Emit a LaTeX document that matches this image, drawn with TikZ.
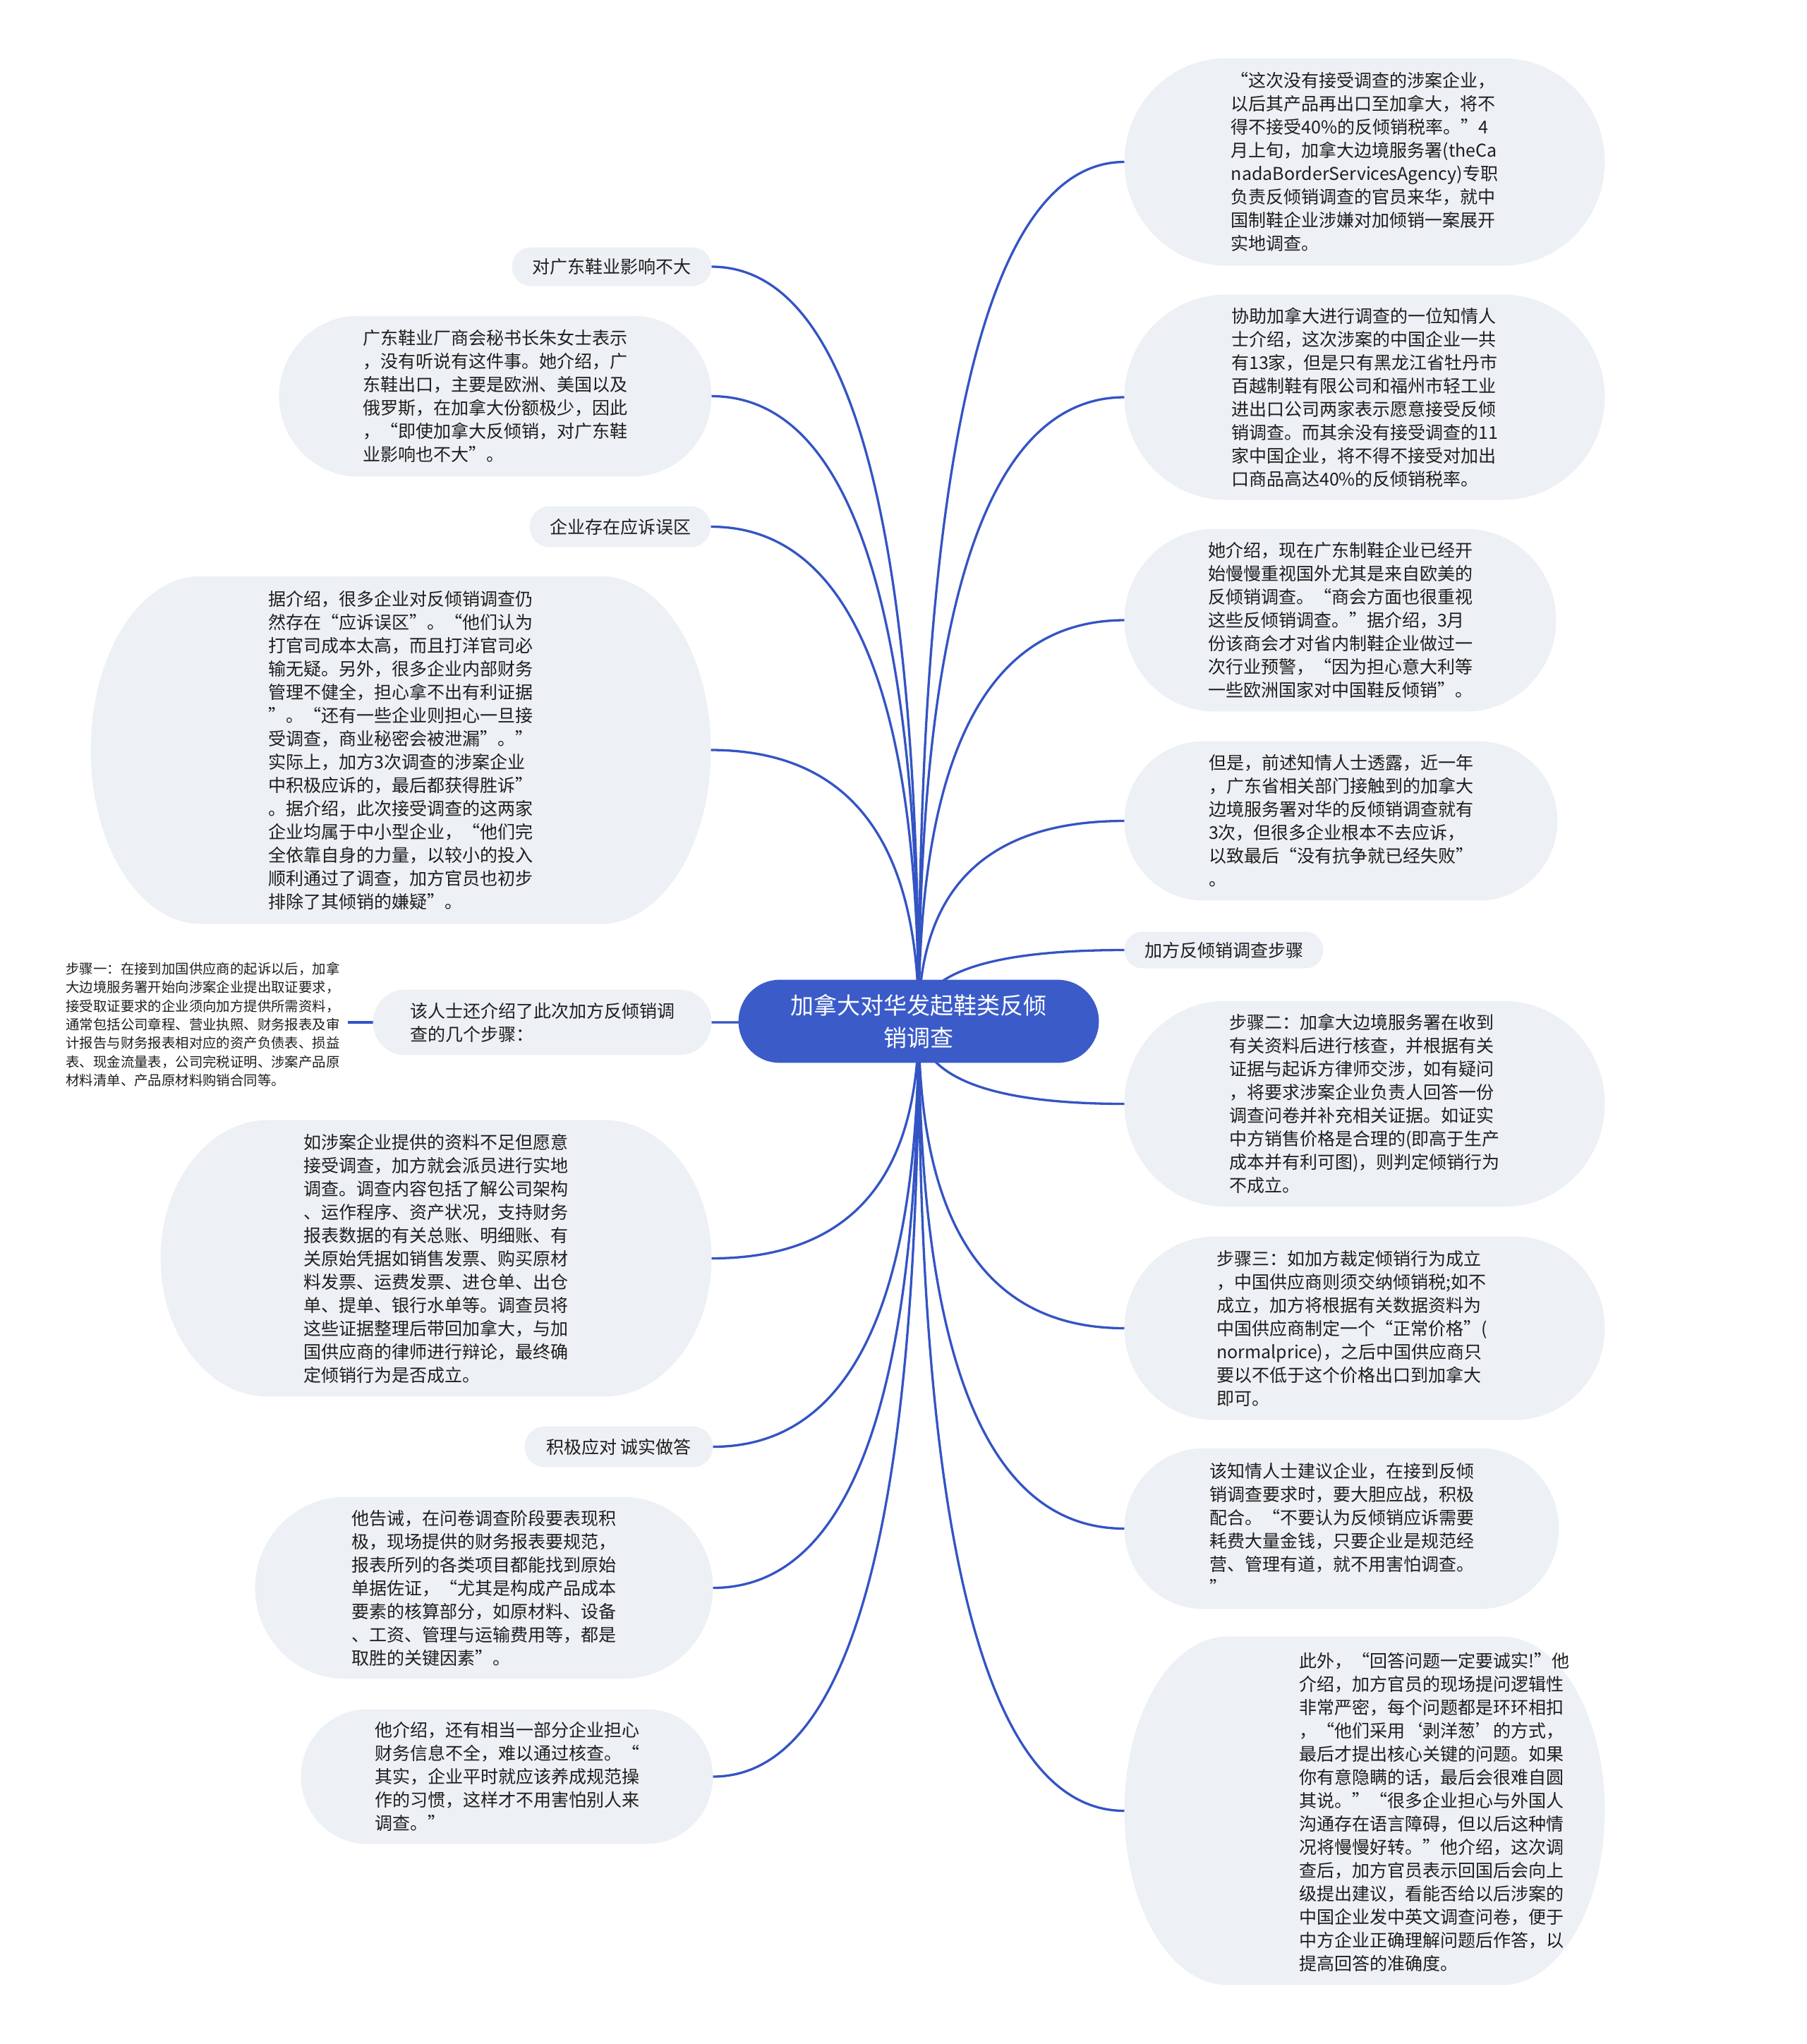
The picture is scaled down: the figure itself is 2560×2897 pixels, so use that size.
\documentclass[tikz,border=0pt]{standalone}
\usepackage{fontspec}
\setmainfont{Noto Sans CJK SC}
\usetikzlibrary{calc}
\definecolor{linkblue}{RGB}{52,84,196}
\definecolor{bubblefill}{RGB}{237,240,244}
\definecolor{rootfill}{RGB}{59,91,200}
\definecolor{txtcol}{RGB}{30,30,30}
\pgfdeclarelayer{bg}
\pgfdeclarelayer{bub}
\pgfsetlayers{bg,bub,main}
\newcommand\pillfill[3]{%
  \begin{pgfonlayer}{bub}
    \path[fill=#1] let \p1=(#2.north west), \p2=(#2.south east), \n1={0.5*(\y1-\y2)} in
      (\x1+#3,\y1) -- (\x2-#3,\y1)
      arc[start angle=90,end angle=-90,x radius=#3,y radius=\n1]
      -- (\x1+#3,\y2)
      arc[start angle=270,end angle=90,x radius=#3,y radius=\n1] -- cycle;
  \end{pgfonlayer}}
\newcommand\rootlink[1]{%
  \coordinate (q) at (root.center |- #1);
  \draw[conn] (root.center) .. controls ($(root.center)!0.6667!(q)$) and ($(#1)!0.6667!(q)$) .. (#1);}
\tikzset{
  box/.style={inner sep=0pt, align=left, text=txtcol, font=\fontsize{12.5}{16.5}\selectfont},
  conn/.style={draw=linkblue, line width=1.65pt},
}
\begin{document}
\begin{tikzpicture}[x=0.5pt,y=-0.5pt]
\useasboundingbox (0,0) rectangle (2560,2897);
\begin{pgfonlayer}{bg}
\fill[white] (0,0) rectangle (2560,2897);
\end{pgfonlayer}

% root
\node[box, text=white, align=center, font=\fontsize{16.5}{23}\selectfont,
      minimum width=255pt, minimum height=58.5pt] (root) at (1302,1447.5)
  {加拿大对华发起鞋类反倾\\销调查};
\pillfill{rootfill}{root}{29.2pt}

% right side
\node[box, minimum width=340pt, minimum height=146.5pt] (r1) at (1934,229.5)
  {“这次没有接受调查的涉案企业，\\以后其产品再出口至加拿大，将不\\得不接受40\%的反倾销税率。”4\\月上旬，加拿大边境服务署(theCa\\nadaBorderServicesAgency)专职\\负责反倾销调查的官员来华，就中\\国制鞋企业涉嫌对加倾销一案展开\\实地调查。};
\pillfill{bubblefill}{r1}{72pt}

\node[box, minimum width=340pt, minimum height=145pt] (r2) at (1934,563)
  {协助加拿大进行调查的一位知情人\\士介绍，这次涉案的中国企业一共\\有13家，但是只有黑龙江省牡丹市\\百越制鞋有限公司和福州市轻工业\\进出口公司两家表示愿意接受反倾\\销调查。而其余没有接受调查的11\\家中国企业，将不得不接受对加出\\口商品高达40\%的反倾销税率。};
\pillfill{bubblefill}{r2}{72pt}

\node[box, minimum width=305.5pt, minimum height=129pt] (r3) at (1899.5,879)
  {她介绍，现在广东制鞋企业已经开\\始慢慢重视国外尤其是来自欧美的\\反倾销调查。“商会方面也很重视\\这些反倾销调查。”据介绍，3月\\份该商会才对省内制鞋企业做过一\\次行业预警，“因为担心意大利等\\一些欧洲国家对中国鞋反倾销”。};
\pillfill{bubblefill}{r3}{64pt}

\node[box, minimum width=306.5pt, minimum height=112.5pt] (r4) at (1900.5,1163.5)
  {但是，前述知情人士透露，近一年\\，广东省相关部门接触到的加拿大\\边境服务署对华的反倾销调查就有\\3次，但很多企业根本不去应诉，\\以致最后“没有抗争就已经失败”\\。};
\pillfill{bubblefill}{r4}{56pt}

\node[box, minimum width=140.5pt, minimum height=25.5pt] (r5) at (1734.5,1346.5)
  {加方反倾销调查步骤};
\pillfill{bubblefill}{r5}{12.7pt}

\node[box, minimum width=340pt, minimum height=145.5pt] (r6) at (1934,1564.5)
  {步骤二：加拿大边境服务署在收到\\有关资料后进行核查，并根据有关\\证据与起诉方律师交涉，如有疑问\\，将要求涉案企业负责人回答一份\\调查问卷并补充相关证据。如证实\\中方销售价格是合理的(即高于生产\\成本并有利可图)，则判定倾销行为\\不成立。};
\pillfill{bubblefill}{r6}{72pt}

\node[box, minimum width=340pt, minimum height=129.5pt] (r7) at (1934,1882.5) {};
\pillfill{bubblefill}{r7}{64pt}
\node[box, anchor=west] (r7t) at (1724,1883)
  {步骤三：如加方裁定倾销行为成立\\，中国供应商则须交纳倾销税;如不\\成立，加方将根据有关数据资料为\\中国供应商制定一个“正常价格”(\\normalprice)，之后中国供应商只\\要以不低于这个价格出口到加拿大\\即可。};

\node[box, minimum width=307.5pt, minimum height=113.5pt] (r8) at (1901.5,2166.5)
  {该知情人士建议企业，在接到反倾\\销调查要求时，要大胆应战，积极\\配合。“不要认为反倾销应诉需要\\耗费大量金钱，只要企业是规范经\\营、管理有道，就不用害怕调查。\\”};
\pillfill{bubblefill}{r8}{56pt}

\node[box, minimum width=340pt, minimum height=246.5pt] (r9) at (1934,2566.5) {};
\pillfill{bubblefill}{r9}{73pt}
\node[box, anchor=west] (r9t) at (1841,2568)
  {此外，“回答问题一定要诚实!”他\\介绍，加方官员的现场提问逻辑性\\非常严密，每个问题都是环环相扣\\，“他们采用‘剥洋葱’的方式，\\最后才提出核心关键的问题。如果\\你有意隐瞒的话，最后会很难自圆\\其说。”“很多企业担心与外国人\\沟通存在语言障碍，但以后这种情\\况将慢慢好转。”他介绍，这次调\\查后，加方官员表示回国后会向上\\级提出建议，看能否给以后涉案的\\中国企业发中英文调查问卷，便于\\中方企业正确理解问题后作答，以\\提高回答的准确度。};

% left side
\node[box, minimum width=141pt, minimum height=27pt] (l1) at (867,378)
  {对广东鞋业影响不大};
\pillfill{bubblefill}{l1}{13.4pt}

\node[box, minimum width=306pt, minimum height=113.5pt] (l2) at (702,561.5)
  {广东鞋业厂商会秘书长朱女士表示\\，没有听说有这件事。她介绍，广\\东鞋出口，主要是欧洲、美国以及\\俄罗斯，在加拿大份额极少，因此\\，“即使加拿大反倾销，对广东鞋\\业影响也不大”。};
\pillfill{bubblefill}{l2}{56pt}

\node[box, minimum width=128pt, minimum height=28.5pt] (l3) at (879,746.5)
  {企业存在应诉误区};
\pillfill{bubblefill}{l3}{14.1pt}

\node[box, minimum width=439pt, minimum height=246pt] (l4) at (568,1063)
  {据介绍，很多企业对反倾销调查仍\\然存在“应诉误区”。“他们认为\\打官司成本太高，而且打洋官司必\\输无疑。另外，很多企业内部财务\\管理不健全，担心拿不出有利证据\\”。“还有一些企业则担心一旦接\\受调查，商业秘密会被泄漏”。”\\实际上，加方3次调查的涉案企业\\中积极应诉的，最后都获得胜诉”\\。据介绍，此次接受调查的这两家\\企业均属于中小型企业，“他们完\\全依靠自身的力量，以较小的投入\\顺利通过了调查，加方官员也初步\\排除了其倾销的嫌疑”。};
\pillfill{bubblefill}{l4}{78pt}

\node[box, minimum width=239.5pt, minimum height=46pt] (l6) at (768.5,1449)
  {该人士还介绍了此次加方反倾销调\\查的几个步骤：};
\pillfill{bubblefill}{l6}{22.8pt}

\node[box, anchor=west, inner xsep=5.5pt, font=\fontsize{9.7}{13.2}\selectfont] (s1) at (82,1452)
  {步骤一：在接到加国供应商的起诉以后，加拿\\大边境服务署开始向涉案企业提出取证要求，\\接受取证要求的企业须向加方提供所需资料，\\通常包括公司章程、营业执照、财务报表及审\\计报告与财务报表相对应的资产负债表、损益\\表、现金流量表，公司完税证明、涉案产品原\\材料清单、产品原材料购销合同等。};

\node[box, minimum width=390pt, minimum height=195.5pt] (l7) at (618,1783.5)
  {如涉案企业提供的资料不足但愿意\\接受调查，加方就会派员进行实地\\调查。调查内容包括了解公司架构\\、运作程序、资产状况，支持财务\\报表数据的有关总账、明细账、有\\关原始凭据如销售发票、购买原材\\料发票、运费发票、进仓单、出仓\\单、提单、银行水单等。调查员将\\这些证据整理后带回加拿大，与加\\国供应商的律师进行辩论，最终确\\定倾销行为是否成立。};
\pillfill{bubblefill}{l7}{76pt}

\node[box, minimum width=133pt, minimum height=28.5pt] (l8) at (877,2050.5)
  {积极应对 诚实做答};
\pillfill{bubblefill}{l8}{14.1pt}

\node[box, minimum width=324pt, minimum height=128.5pt] (l9) at (686,2250.5)
  {他告诫，在问卷调查阶段要表现积\\极，现场提供的财务报表要规范，\\报表所列的各类项目都能找到原始\\单据佐证，“尤其是构成产品成本\\要素的核算部分，如原材料、设备\\、工资、管理与运输费用等，都是\\取胜的关键因素”。};
\pillfill{bubblefill}{l9}{64pt}

\node[box, minimum width=291.5pt, minimum height=95pt] (l10) at (718.5,2518)
  {他介绍，还有相当一部分企业担心\\财务信息不全，难以通过核查。“\\其实，企业平时就应该养成规范操\\作的习惯，这样才不用害怕别人来\\调查。”};
\pillfill{bubblefill}{l10}{47pt}

% connectors
\begin{pgfonlayer}{bg}
\rootlink{r1.west}
\rootlink{r2.west}
\rootlink{r3.west}
\rootlink{r4.west}
\rootlink{r5.west}
\rootlink{r6.west}
\rootlink{r7.west}
\rootlink{r8.west}
\rootlink{r9.west}
\rootlink{l1.east}
\rootlink{l2.east}
\rootlink{l3.east}
\rootlink{l4.east}
\rootlink{l6.east}
\rootlink{l7.east}
\rootlink{l8.east}
\rootlink{l9.east}
\rootlink{l10.east}
\draw[conn] (l6.west) -- (s1.east |- l6.west);
\end{pgfonlayer}
\end{tikzpicture}
\end{document}
